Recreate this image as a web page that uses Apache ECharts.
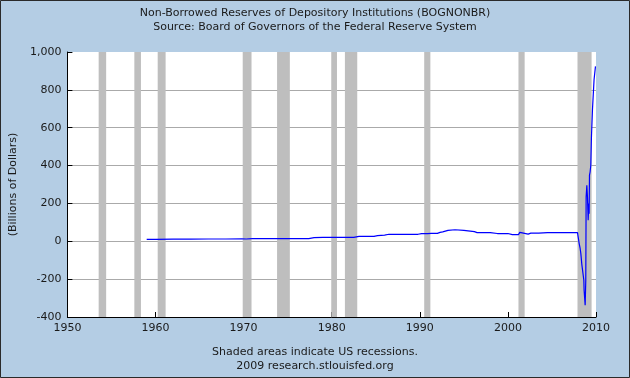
<!DOCTYPE html>
<html><head><meta charset="utf-8">
<script src="https://cdn.jsdelivr.net/npm/echarts@6/dist/echarts.min.js"></script>
<style>html,body{margin:0;padding:0;background:#B4CDE4}#c{width:630px;height:378px}</style>
</head><body><div id="c"></div>
<script>
// Decimal years and values (billions of dollars)
const years = [1959.0,1960.0,1962.0,1964.0,1966.0,1968.0,1969.8,1970.0,1970.3,1971.0,1973.0,1975.0,1977.4,1978.0,1979.0,1980.1,1980.25,1980.4,1981.0,1982.5,1983.1,1984.4,1984.6,1984.8,1985.2,1986.0,1986.5,1988.0,1989.8,1990.2,1990.9,1991.1,1991.3,1992.0,1992.3,1992.6,1993.2,1994.0,1995.0,1996.2,1996.5,1998.0,1998.8,2000.0,2000.5,2001.2,2001.35,2001.5,2002.3,2002.6,2003.5,2004.5,2006.0,2007.9,2007.97,2008.09,2008.20,2008.28,2008.39,2008.50,2008.62,2008.65,2008.77,2008.84,2008.88,2008.96,2009.03,2009.11,2009.18,2009.22,2009.26,2009.33,2009.41,2009.48,2009.60,2009.71,2009.78,2009.86,2009.94];
const values = [10,10,11,11,12,12,13,13,12,14,14,14,14,19,21,21,18,21,21,21,26,26,16,26,30,33,37,37,37,40,40,36,42,42,47,50,58,61,58,51,46,46,41,41,35,35,47,44,38,43,43,46,46,46,41,-12,-38,-65,-122,-128,-206,-259,-338,-206,234,296,234,111,199,146,349,366,402,547,697,706,854,860,924];
const recStart = [1953.55,1957.6,1960.25,1969.9,1973.8,1979.95,1981.5,1990.5,2001.2,2007.9];
const recEnd   = [1954.4,1958.35,1961.15,1970.9,1975.25,1980.6,1982.9,1991.2,2001.9,2009.5];
const xTicks = [1950,2010,10];
const yTicks = [-400,1000,200];
const titleLines = ['Non-Borrowed Reserves of Depository Institutions (BOGNONBR)','Source: Board of Governors of the Federal Reserve System'];
const footLines = ['Shaded areas indicate US recessions.','2009 research.stlouisfed.org'];

const lineData = years.map((y,i)=>[y,values[i]]);
const recData = recStart.map((s,i)=>[{xAxis:s},{xAxis:recEnd[i]}]);
const font = 'DejaVu Sans, Verdana, sans-serif';
const txt = '#1a1a1a';
const textEl = (t,y)=>({type:'text',x:315,y:y,style:{text:t,fill:txt,font:'11px '+font,textAlign:'center',textVerticalAlign:'middle'}});

const chart = echarts.init(document.getElementById('c'));
chart.setOption({
  animation:false,
  backgroundColor:'#B4CDE4',
  grid:{left:67,right:34,top:52,bottom:61,show:true,backgroundColor:'#fff',borderWidth:0,containLabel:false},
  xAxis:{type:'value',min:xTicks[0],max:xTicks[1],interval:xTicks[2],
    axisLine:{onZero:false,lineStyle:{color:'#000',width:1}},
    axisTick:{inside:true,length:5,lineStyle:{color:'#000'}},
    axisLabel:{fontFamily:font,fontSize:11,color:txt,margin:6,formatter:v=>String(v)},
    splitLine:{show:false}},
  yAxis:{type:'value',min:yTicks[0],max:yTicks[1],interval:yTicks[2],
    name:'(Billions of Dollars)',nameLocation:'middle',nameGap:48,
    nameTextStyle:{fontFamily:font,fontSize:11,color:txt},
    axisLine:{show:true,onZero:false,lineStyle:{color:'#000',width:1}},
    axisTick:{show:true,inside:true,length:5,lineStyle:{color:'#000'}},
    axisLabel:{fontFamily:font,fontSize:11,color:txt,margin:6,
      formatter:v=>v.toLocaleString('en-US')},
    splitLine:{show:true,showMaxLine:false,lineStyle:{color:'#AAAAAA',width:1}}},
  series:[
    {type:'line',data:[],z:1,silent:true,
     markArea:{silent:true,itemStyle:{color:'#BEBEBE',opacity:1},data:recData}},
    {type:'line',data:lineData,z:3,symbol:'none',lineStyle:{color:'#0000FF',width:1.2}}
  ],
  graphic:[
    textEl(titleLines[0],13), textEl(titleLines[1],27),
    textEl(footLines[0],352), textEl(footLines[1],366),
    {type:'rect',shape:{x:0.5,y:0.5,width:629,height:377},style:{fill:'none',stroke:'#2a2a2a',lineWidth:1},z:100}]
});
</script></body></html>
